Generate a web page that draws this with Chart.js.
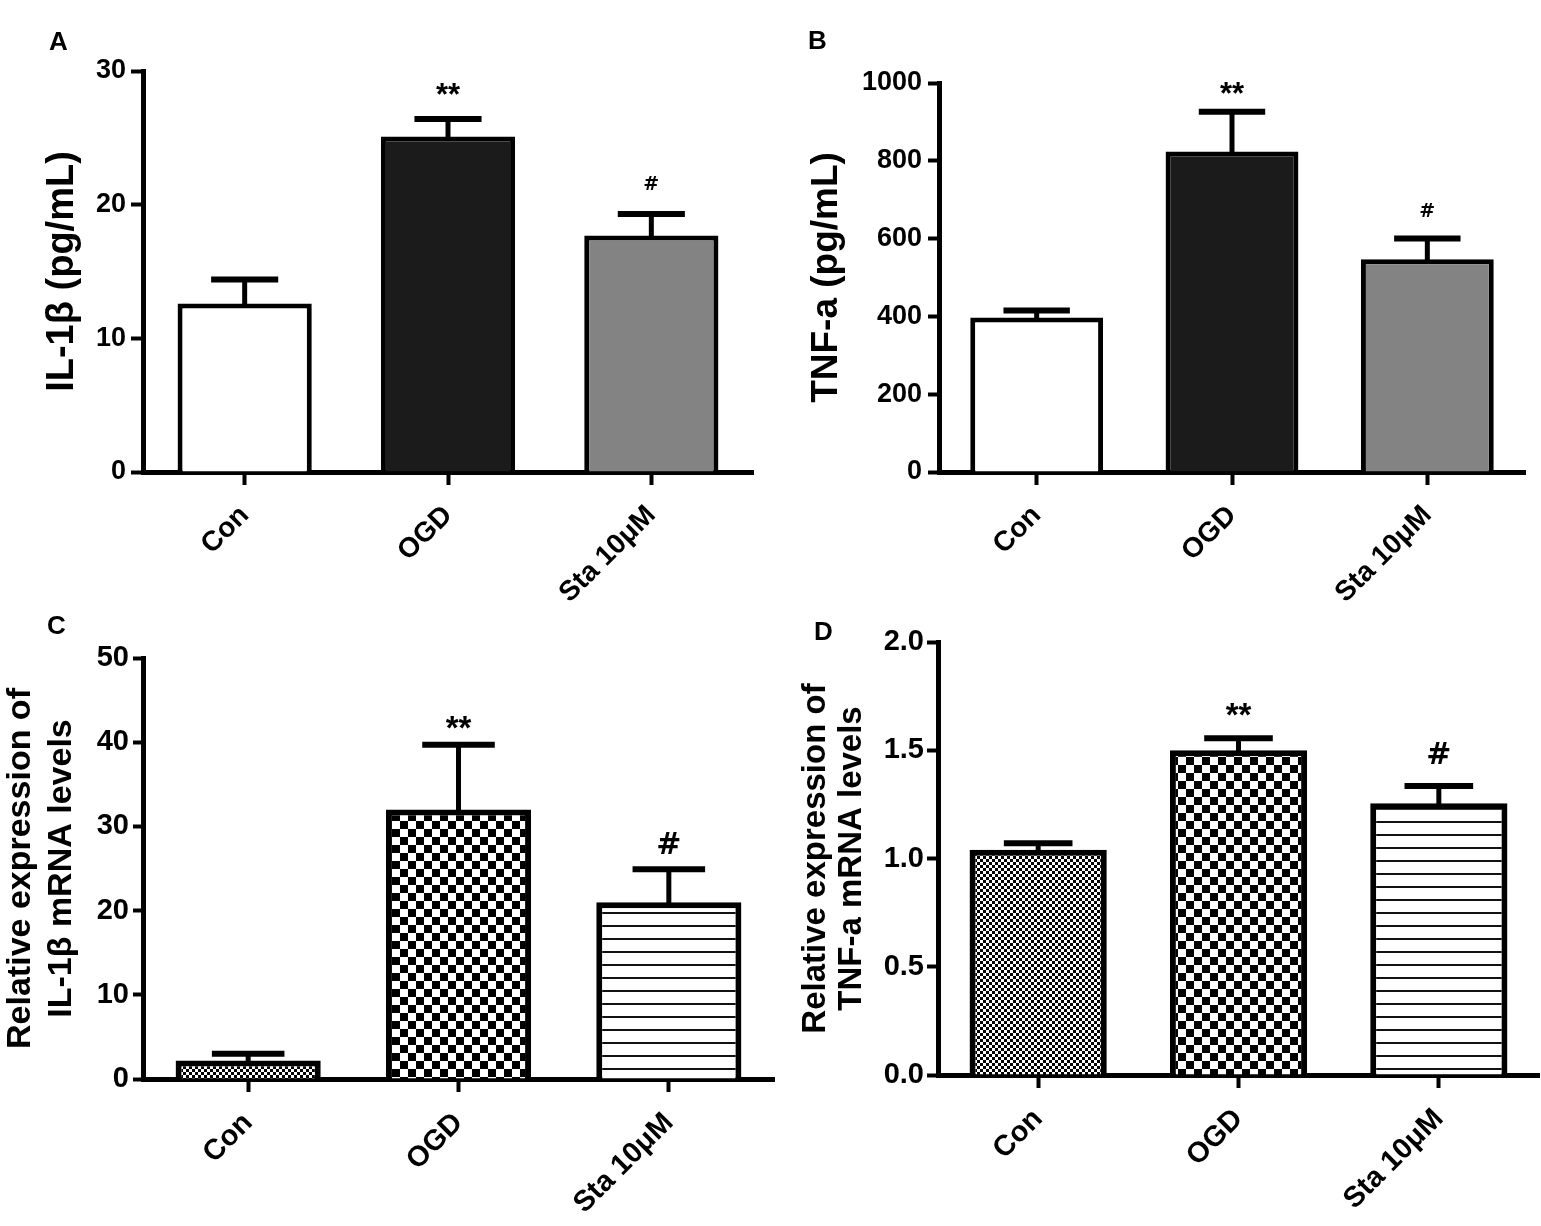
<!DOCTYPE html>
<html><head><meta charset="utf-8">
<script src="https://cdn.jsdelivr.net/npm/chart.js@4.4.1/dist/chart.umd.min.js"></script>
<style>
html,body{margin:0;padding:0;background:#fff;}
body{width:1541px;height:1226px;position:relative;overflow:hidden;font-family:'Liberation Sans',Arial,sans-serif;}
canvas.panel{position:absolute;}
.letter{position:absolute;font-weight:bold;font-size:26px;line-height:1;color:#000;}
</style></head><body>
<canvas id="cA" class="panel" style="left:0px;top:0px" width="770" height="613"></canvas>
<canvas id="cB" class="panel" style="left:770px;top:0px" width="771" height="613"></canvas>
<canvas id="cC" class="panel" style="left:0px;top:613px" width="790" height="613"></canvas>
<canvas id="cD" class="panel" style="left:770px;top:613px" width="771" height="613"></canvas>
<div class="letter" style="left:49px;top:28px">A</div>
<div class="letter" style="left:808px;top:27px">B</div>
<div class="letter" style="left:47px;top:612px">C</div>
<div class="letter" style="left:814px;top:618px">D</div>
<script>
// ---------- data ----------
const categories = ['Con', 'OGD', 'Sta 10μM'];

const il1bProtein    = [12.6, 25.1, 17.7];
const il1bProteinErr = [1.8, 1.3, 1.6];

const tnfProtein     = [397, 824, 547];
const tnfProteinErr  = [18, 102, 53];

const il1bMrna       = [2.2, 32.0, 21.0];
const il1bMrnaErr    = [0.8, 7.7, 3.9];

const tnfMrna        = [1.04, 1.50, 1.255];
const tnfMrnaErr     = [0.03, 0.055, 0.08];

const significance   = ['', '**', '#'];

const titleA = 'IL-1β (pg/mL)';
const titleB = 'TNF-a (pg/mL)';
const titleC = ['Relative expression of', 'IL-1β mRNA levels'];
const titleD = ['Relative expression of', 'TNF-a mRNA levels'];

// ---------- fonts ----------
function fontAvailable(name){
  const c = document.createElement('canvas').getContext('2d');
  const s = '1000 2.0 abcXYZ mw';
  c.font = 'bold 40px monospace'; const w1 = c.measureText(s).width;
  c.font = 'bold 40px "' + name + '", monospace'; const w2 = c.measureText(s).width;
  return Math.abs(w1 - w2) > 0.5;
}
const NARROW = fontAvailable('Liberation Sans Narrow');
const tickFamily = NARROW ? '"Liberation Sans Narrow", "Liberation Sans", Arial, sans-serif' : '"Liberation Sans", Arial, sans-serif';
const tickScale = NARROW ? 1 : 0.9;
const mainFamily = '"Liberation Sans", Arial, sans-serif';
const hashFamily = '"DejaVu Sans", "Liberation Sans", sans-serif';
Chart.defaults.font.family = mainFamily;
Chart.defaults.color = '#000';

// ---------- patterns ----------
function checker(cell){
  const c = document.createElement('canvas'); c.width = c.height = cell*2;
  const g = c.getContext('2d');
  g.fillStyle = '#fff'; g.fillRect(0,0,cell*2,cell*2);
  g.fillStyle = '#000'; g.fillRect(0,0,cell,cell); g.fillRect(cell,cell,cell,cell);
  return g.createPattern(c,'repeat');
}
function stripes(period, thick){
  const c = document.createElement('canvas'); c.width = 8; c.height = period;
  const g = c.getContext('2d');
  g.fillStyle = '#fff'; g.fillRect(0,0,8,period);
  g.fillStyle = '#111'; g.fillRect(0,0,8,thick);
  return g.createPattern(c,'repeat');
}

// ---------- plugin: error bars + significance marks ----------
const errorBars = {
  id: 'errorBars',
  afterDatasetsDraw(chart, args, o){
    const ctx = chart.ctx, ys = chart.scales.y;
    chart.data.datasets.forEach((ds, di) => {
      const meta = chart.getDatasetMeta(di);
      meta.data.forEach((bar, i) => {
        const v = ds.data[i], e = ds.errors[i];
        const yTop = ys.getPixelForValue(v + e);
        const yBar = ys.getPixelForValue(v);
        const cap = bar.width * o.capRatio;
        ctx.save();
        ctx.strokeStyle = '#000'; ctx.lineCap = 'butt';
        ctx.lineWidth = o.stemWidth;
        ctx.beginPath(); ctx.moveTo(bar.x, yBar + 2); ctx.lineTo(bar.x, yTop); ctx.stroke();
        ctx.lineWidth = o.capWidth;
        ctx.beginPath(); ctx.moveTo(bar.x - cap/2, yTop); ctx.lineTo(bar.x + cap/2, yTop); ctx.stroke();
        const m = ds.marks[i];
        if (m) {
          const spec = o.marks[m];
          ctx.font = 'bold ' + spec.size + 'px ' + (m === '#' ? hashFamily : mainFamily);
          ctx.fillStyle = '#000'; ctx.textAlign = 'center'; ctx.textBaseline = 'alphabetic';
          const mt = ctx.measureText(m);
          const cy = yTop - spec.gap;
          const base = cy + (mt.actualBoundingBoxAscent - mt.actualBoundingBoxDescent)/2;
          ctx.fillText(m, bar.x, base);
        }
        ctx.restore();
      });
    });
  }
};

// ---------- panels ----------
function makePanel(id, values, errors, fills, P){
  const canvas = document.getElementById(id);
  const H = canvas.height;
  return new Chart(canvas, {
    type: 'bar',
    data: {
      labels: categories,
      datasets: [{
        data: values,
        errors: errors,
        marks: significance,
        backgroundColor: fills,
        borderColor: '#000',
        borderWidth: P.border,
        borderSkipped: 'start',
        barPercentage: P.barPct,
        categoryPercentage: 1.0
      }]
    },
    options: {
      responsive: false,
      animation: false,
      devicePixelRatio: 1,
      layout: { padding: { left: 0, top: P.top, right: P.right, bottom: 0 } },
      plugins: {
        legend: { display: false },
        tooltip: { enabled: false },
        errorBars: { capRatio: 0.5, stemWidth: P.stem, capWidth: P.capW, marks: P.marks }
      },
      scales: {
        x: {
          z: 1,
          grid: { offset: false, drawOnChartArea: false, drawTicks: true, tickLength: 13, tickWidth: 4, tickColor: '#000', color: '#000' },
          border: { display: true, color: '#000', width: P.axisW },
          ticks: { autoSkip: false, minRotation: 45, maxRotation: 45, padding: P.xPad, color: '#000',
                   font: { size: P.xFont, weight: 'bold', family: mainFamily } },
          afterFit(s){ s.height = H - P.bottom; }
        },
        y: {
          min: 0, max: P.yMax,
          grid: { drawOnChartArea: false, drawTicks: true, tickLength: P.tickLen, tickWidth: 4, tickColor: '#000', color: '#000' },
          border: { display: true, color: '#000', width: P.axisW },
          ticks: { stepSize: P.yStep, padding: P.tickPad, color: '#000',
                   font: { size: Math.round(P.tickFont * tickScale), weight: 'bold', family: tickFamily },
                   callback: v => P.decimals ? Number(v).toFixed(P.decimals) : v },
          title: { display: true, text: P.title, color: '#000',
                   font: { size: P.titleSize, weight: 'bold', family: mainFamily, lineHeight: P.titleLH },
                   padding: { top: P.titlePad, bottom: 0 } },
          afterFit(s){ s.width = P.left; }
        }
      }
    },
    plugins: [errorBars]
  });
}

const whiteBlackGray = ['#ffffff', '#1b1b1b', '#838383'];
const patternFills = () => [checker(3), checker(8), stripes(13, 2)];

makePanel('cA', il1bProtein, il1bProteinErr, whiteBlackGray, {
  left: 143, top: 71, right: 17, bottom: 472, barPct: 0.66, border: 5, axisW: 5,
  yMax: 30, yStep: 10, decimals: 0, tickFont: 30, tickLen: 12, tickPad: 5,
  xFont: 28, xPad: 14, title: titleA, titleSize: 38, titleLH: 1.2, titlePad: 40,
  stem: 5, capW: 6, marks: { '**': { size: 31, gap: 30 }, '#': { size: 19, gap: 31 } }
});
makePanel('cB', tnfProtein, tnfProteinErr, whiteBlackGray, {
  left: 169, top: 83, right: 16, bottom: 472, barPct: 0.68, border: 5, axisW: 5,
  yMax: 1000, yStep: 200, decimals: 0, tickFont: 30, tickLen: 11, tickPad: 6,
  xFont: 28, xPad: 14, title: titleB, titleSize: 37, titleLH: 1.2, titlePad: 35,
  stem: 5, capW: 6, marks: { '**': { size: 31, gap: 24 }, '#': { size: 19, gap: 29 } }
});
makePanel('cC', il1bMrna, il1bMrnaErr, patternFills(), {
  left: 143, top: 45, right: 16, bottom: 466, barPct: 0.69, border: 6, axisW: 5,
  yMax: 50, yStep: 10, decimals: 0, tickFont: 32, tickLen: 10, tickPad: 4,
  xFont: 29, xPad: 14, title: titleC, titleSize: 34, titleLH: 1.18, titlePad: 1,
  stem: 5, capW: 6, marks: { '**': { size: 33, gap: 22 }, '#': { size: 30, gap: 26 } }
});
makePanel('cD', tnfMrna, tnfMrnaErr, patternFills(), {
  left: 168, top: 29, right: 2, bottom: 462, barPct: 0.685, border: 6, axisW: 5,
  yMax: 2.0, yStep: 0.5, decimals: 1, tickFont: 32, tickLen: 11, tickPad: 3,
  xFont: 29, xPad: 14, title: titleD, titleSize: 33, titleLH: 1.09, titlePad: 28,
  stem: 5, capW: 6, marks: { '**': { size: 33, gap: 29 }, '#': { size: 30, gap: 33 } }
});
</script>
</body></html>
